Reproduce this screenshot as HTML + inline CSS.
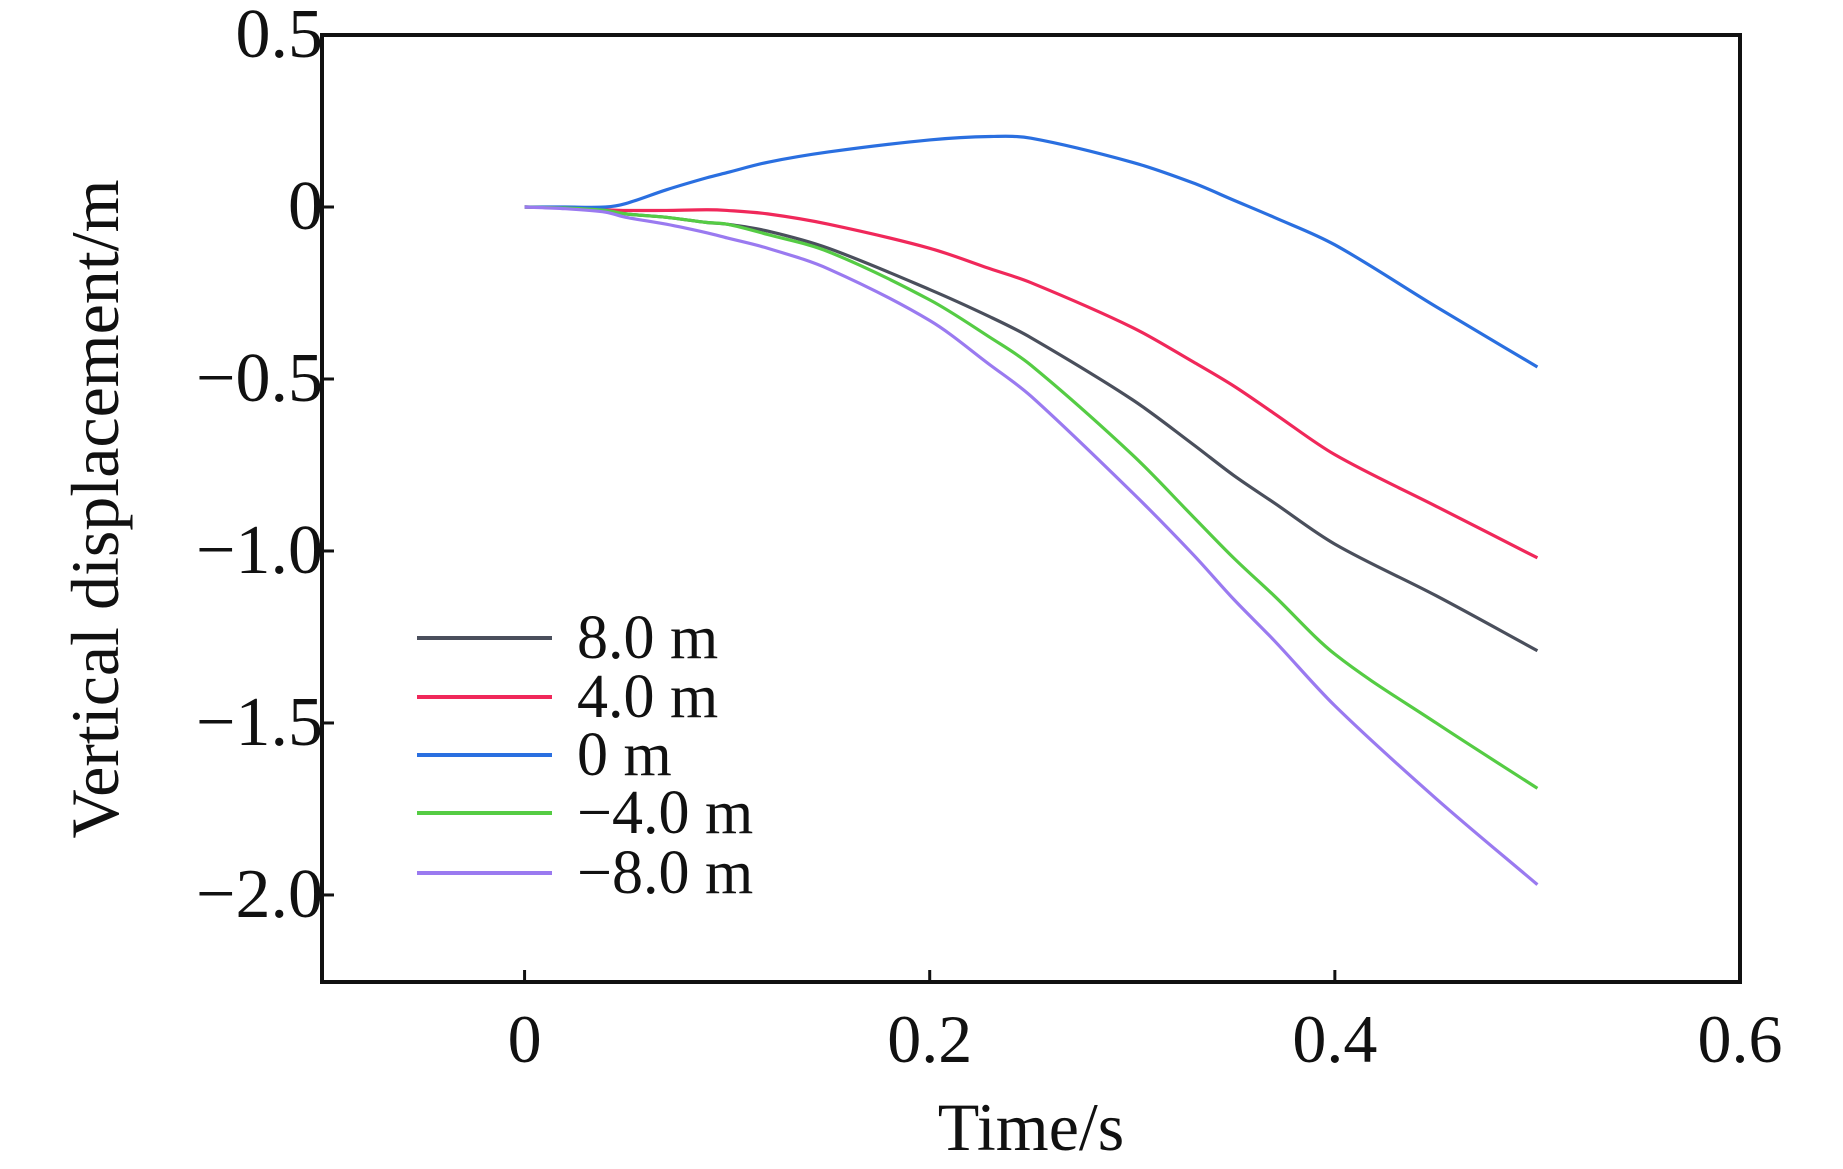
<!DOCTYPE html>
<html><head><meta charset="utf-8"><style>
html,body{margin:0;padding:0;background:#fff;}
svg{display:block;font-family:"Liberation Serif",serif;}
</style></head><body>
<svg id="chart" width="1843" height="1169" viewBox="0 0 1843 1169">
<g id="marks"></g>
</svg>
<script>
const times = [0,0.02,0.04,0.05,0.07,0.09,0.1,0.12,0.15,0.2,0.23,0.25,0.3,0.33,0.35,0.37,0.4,0.45,0.5];
const seriesNames = ["8.0 m","4.0 m","0 m","\u22124.0 m","\u22128.0 m"];
const seriesColors = ["#4a4f5c","#f0285a","#2a6fe0","#55cc44","#9a7af0"];
const s8 = [0,-0.003,-0.01,-0.02,-0.03,-0.045,-0.05,-0.07,-0.12,-0.24,-0.32,-0.38,-0.56,-0.69,-0.78,-0.86,-0.98,-1.13,-1.29];
const s4 = [0,-0.003,-0.008,-0.01,-0.01,-0.008,-0.01,-0.02,-0.05,-0.12,-0.18,-0.22,-0.35,-0.45,-0.52,-0.6,-0.72,-0.87,-1.02];
const s0 = [0,0,0,0.01,0.05,0.085,0.1,0.13,0.16,0.195,0.205,0.2,0.13,0.07,0.02,-0.03,-0.11,-0.29,-0.465];
const sm4 = [0,-0.003,-0.01,-0.02,-0.03,-0.045,-0.05,-0.08,-0.13,-0.27,-0.38,-0.46,-0.72,-0.9,-1.02,-1.13,-1.3,-1.5,-1.69];
const sm8 = [0,-0.005,-0.015,-0.03,-0.05,-0.075,-0.09,-0.12,-0.18,-0.33,-0.46,-0.55,-0.83,-1.01,-1.14,-1.26,-1.45,-1.72,-1.97];
const seriesValues = [s8,s4,s0,sm4,sm8];
const xTicks = [0,0.2,0.4,0.6];
const xTickLabels = ["0","0.2","0.4","0.6"];
const yTicks = [0.5,0,-0.5,-1.0,-1.5,-2.0];
const yTickLabels = ["0.5","0","\u22120.5","\u22121.0","\u22121.5","\u22122.0"];

const L=322,R=1740,T=35,B=982, xMin=-0.1,xMax=0.6,yMin=-2.253,yMax=0.5;
function X(v){return L+(v-xMin)/(xMax-xMin)*(R-L);}
function Y(v){return B-(v-yMin)/(yMax-yMin)*(B-T);}
const NS="http://www.w3.org/2000/svg";
const svg=document.getElementById('chart');
function mk(tag,attrs,parent){const e=document.createElementNS(NS,tag);for(const k in attrs)e.setAttribute(k,attrs[k]);(parent||svg).appendChild(e);return e;}

// series (Hermite spline in data space)
seriesValues.forEach((vals,si)=>{
  const n=times.length;
  const m=vals.map((v,i)=>{
    const a=Math.max(i-1,0),b=Math.min(i+1,n-1);
    return (vals[b]-vals[a])/(times[b]-times[a]);
  });
  let d="M"+X(times[0])+","+Y(vals[0]);
  for(let i=0;i<n-1;i++){
    const dt=times[i+1]-times[i];
    const c1x=X(times[i]+dt/3),c1y=Y(vals[i]+m[i]*dt/3);
    const c2x=X(times[i+1]-dt/3),c2y=Y(vals[i+1]-m[i+1]*dt/3);
    d+=" C"+c1x+","+c1y+" "+c2x+","+c2y+" "+X(times[i+1])+","+Y(vals[i+1]);
  }
  const p=mk('path',{d:d,fill:'none',stroke:seriesColors[si],'stroke-width':3.2});
  
  
});

// frame
const fr=mk('rect',{x:L,y:T,width:R-L,height:B-T,fill:'none',stroke:'#111','stroke-width':4});



// x ticks
xTicks.forEach((v,i)=>{
  const ln=mk('line',{x1:X(v),x2:X(v),y1:B,y2:B-12,stroke:'#111','stroke-width':3});
  
  
  const t=mk('text',{x:X(v),y:B+80,'font-size':68,'text-anchor':'middle',fill:'#111'});
  t.textContent=xTickLabels[i];
  
  
});
// y ticks
yTicks.forEach((v,i)=>{
  const ln=mk('line',{x1:L,x2:L+12,y1:Y(v),y2:Y(v),stroke:'#111','stroke-width':3});
  
  
  const t=mk('text',{x:L+1,y:Y(v)+22,'font-size':70,'text-anchor':'end',fill:'#111'});
  t.textContent=yTickLabels[i];
  
  
});
// axis titles
const xt=mk('text',{x:1031,y:1150,'font-size':68,'text-anchor':'middle',fill:'#111'});
xt.textContent="Time/s";


const yt=mk('text',{x:0,y:0,'font-size':68,'text-anchor':'middle',fill:'#111',transform:'translate(118,509) rotate(-90)'});
yt.textContent="Vertical displacement/m";



// legend
const legY=[638,697,755,813,873];
seriesNames.forEach((n,i)=>{
  const g=mk('g',{});
  
  
  mk('line',{x1:417,x2:552,y1:legY[i],y2:legY[i],stroke:seriesColors[i],'stroke-width':4},g);
  const t=mk('text',{x:577,y:legY[i]+20,'font-size':62,fill:'#111'},g);
  t.textContent=n;
});
</script>
</body></html>
